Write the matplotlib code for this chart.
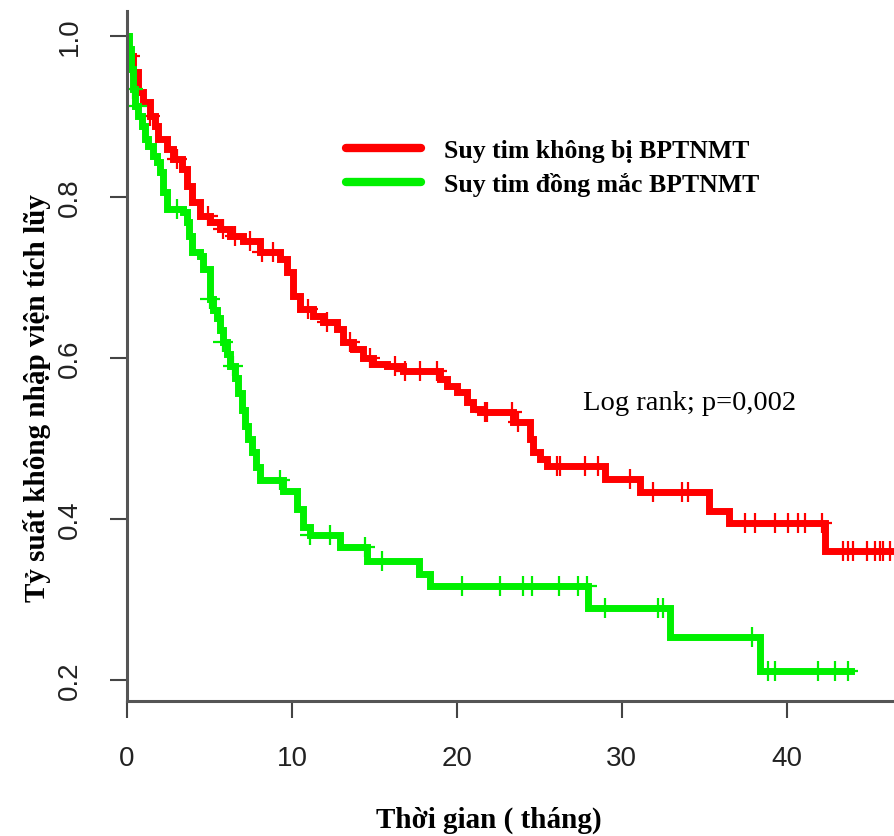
import numpy as np
import matplotlib
matplotlib.use("Agg")
import matplotlib.pyplot as plt

# step curves (months, cumulative survival)
red_t = [0, 0.05, 0.36, 0.67, 0.97, 1.39, 1.7, 1.88, 2.42, 2.79, 3.33, 3.64, 3.94, 4.42,
         5.03, 5.64, 6.24, 7.03, 8.06, 9.27, 9.7, 10.06, 10.48, 11.27, 11.88, 12.73, 13.09,
         13.7, 14.3, 14.9, 15.76, 16.73, 18.97, 19.39, 20.0, 20.6, 20.97, 21.39, 23.39,
         24.42, 24.6, 25.03, 25.45, 29.0, 31.1, 35.3, 36.5, 42.3, 46.5]
red_s = [1.0, 0.975, 0.955, 0.93, 0.918, 0.90, 0.888, 0.872, 0.86, 0.847, 0.835, 0.814,
         0.794, 0.776, 0.769, 0.76, 0.752, 0.745, 0.732, 0.723, 0.707, 0.677, 0.661, 0.652,
         0.645, 0.636, 0.62, 0.611, 0.60, 0.593, 0.59, 0.584, 0.574, 0.565, 0.558, 0.545,
         0.537, 0.533, 0.52, 0.50, 0.483, 0.475, 0.466, 0.45, 0.434, 0.41, 0.395, 0.36, 0.36]
red_cens = [0.18, 1.39, 3.03, 4.91, 5.82, 6.55, 7.45, 8.18, 8.85, 10.97, 12.12, 13.52,
            14.73, 16.24, 16.85, 17.76, 18.79, 21.7, 21.82, 23.33, 23.7, 26.06, 26.24,
            27.76, 28.55, 30.48, 31.88, 33.64, 34.0, 37.45, 38.06, 39.27, 40.06, 40.67,
            41.09, 42.12, 43.39, 43.7, 44.0, 44.85, 45.33, 45.64, 45.82, 46.24]

green_t = [0, 0.12, 0.24, 0.36, 0.48, 0.67, 0.91, 1.09, 1.27, 1.58, 1.82, 2.0, 2.18, 2.42,
           3.39, 3.64, 3.76, 3.94, 4.42, 4.6, 5.03, 5.21, 5.45, 5.64, 5.82, 6.06, 6.24, 6.55,
           6.73, 6.97, 7.15, 7.33, 7.58, 7.82, 8.06, 9.45, 10.3, 10.67, 11.1, 12.9, 14.55,
           17.7, 18.36, 27.94, 32.9, 38.36, 43.9]
green_s = [1.0, 0.984, 0.959, 0.934, 0.913, 0.90, 0.888, 0.872, 0.863, 0.851, 0.843, 0.831,
           0.806, 0.785, 0.781, 0.769, 0.752, 0.732, 0.727, 0.71, 0.673, 0.66, 0.65, 0.635,
           0.62, 0.605, 0.59, 0.575, 0.557, 0.535, 0.515, 0.50, 0.483, 0.465, 0.448, 0.435,
           0.412, 0.39, 0.38, 0.365, 0.348, 0.332, 0.317, 0.29, 0.253, 0.211, 0.211]
green_cens = [0.36, 0.61, 3.03, 5.03, 5.82, 6.42, 9.27, 11.1, 12.3, 14.42, 15.45, 20.3,
              22.6, 24.0, 24.55, 26.18, 27.33, 27.9, 28.97, 32.18, 32.48, 37.88, 38.85,
              39.27, 41.88, 42.9, 43.7]

labels = ["Suy tim không bị BPTNMT", "Suy tim đồng mắc BPTNMT"]
colors = ["#ff0000", "#00f000"]
xticks = [0, 10, 20, 30, 40]
yticks = [0.2, 0.4, 0.6, 0.8, 1.0]


def cens_y(t, s, c):
    idx = np.searchsorted(t, c, side="right") - 1
    return np.array(s)[idx]


fig = plt.figure(figsize=(8.94, 8.37), dpi=100)
ax = fig.add_axes([127 / 894, 135 / 837, 767 / 894, 690 / 837])

for t, s, c, col, lab in [(red_t, red_s, red_cens, colors[0], labels[0]),
                          (green_t, green_s, green_cens, colors[1], labels[1])]:
    ax.step(t, s, where="post", color=col, lw=5, label=lab, solid_joinstyle="miter")
    ax.plot(c, cens_y(t, s, c), ls="none", marker="+", ms=15, mew=1.6, color=col)

ax.set_xlim(0, 46.5)
ax.set_ylim(0.174, 1.031)
ax.set_xticks(xticks)
ax.set_yticks(yticks)
ax.set_yticklabels([f"{v:.1f}" for v in yticks])

for side in ["top", "right"]:
    ax.spines[side].set_visible(False)
for side in ["left", "bottom"]:
    ax.spines[side].set_color("#555555")
    ax.spines[side].set_linewidth(2.2)

tick_font = ["Liberation Sans", "DejaVu Sans"]
ax.tick_params(axis="both", length=12, width=1.5, color="#444444", labelsize=20,
               labelcolor="#222222")
ax.tick_params(axis="x", pad=20)
ax.tick_params(axis="y", pad=20)
for lbl in ax.get_xticklabels():
    lbl.set_family(tick_font)
for lbl in ax.get_yticklabels():
    lbl.set_family(tick_font)
    lbl.set_rotation(90)
    lbl.set_va("center")

serif = ["Liberation Serif", "DejaVu Serif"]
fig.text(37 / 894, 1 - 398 / 837, "Tỷ suất không nhập viện tích lũy", rotation=90,
         ha="center", va="center", fontsize=21, fontweight="bold", family=serif)
fig.text(489 / 894, 1 - 820 / 837, "Thời gian ( tháng)", ha="center", va="center",
         fontsize=21, fontweight="bold", family=serif)
ax.text(34.1, 0.545, "Log rank; p=0,002", ha="center", va="center", fontsize=20.5,
        family=serif)

leg = ax.legend(loc="upper left", bbox_to_anchor=(346 / 894, 1 - 140 / 837),
                bbox_transform=fig.transFigure, frameon=False, borderpad=0,
                borderaxespad=0, handlelength=2.9, handletextpad=0.9, labelspacing=0.38,
                prop={"family": serif, "weight": "bold", "size": 18.5})
for h in leg.legend_handles:
    h.set_linewidth(6)
    h.set_solid_capstyle("round")

fig.savefig("out.png", dpi=100, facecolor="white")
